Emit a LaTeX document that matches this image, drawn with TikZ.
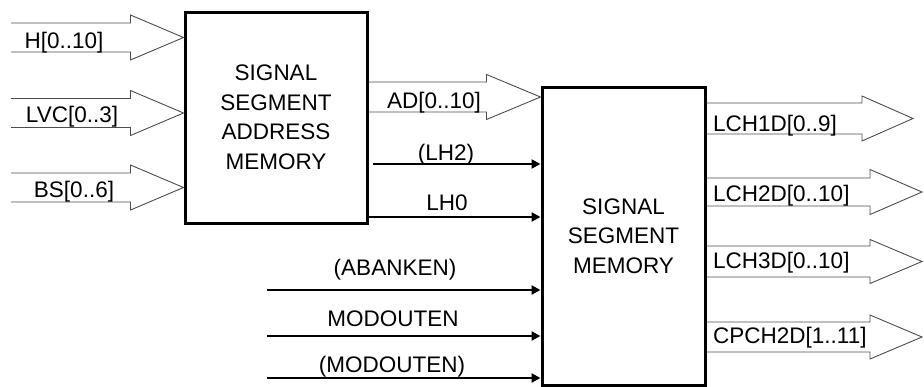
\documentclass[tikz,border=0pt]{standalone}
\usepackage{fontspec}
\setmainfont{Liberation Sans}
\usetikzlibrary{calc,arrows.meta}
\tikzset{
  blk/.style={draw=black, line width=3pt, inner sep=0pt, align=center,
    font=\fontsize{22.5}{29.5}\selectfont},
  bus/.style={draw=black!70, line width=0.9pt, line join=miter},
  sig/.style={draw=black, line width=2.8pt, -{Triangle[length=9pt,width=9pt]}},
  lbl/.style={inner sep=0pt, anchor=base, font=\fontsize{22.5}{26}\selectfont},
  lbll/.style={lbl, anchor=base west}
}
\newcommand\busar[5]{%
  \draw[bus] ($(#1)+(0,-#4)$) -- ($(#2)+(-#3,-#4)$) -- ($(#2)+(-#3,-#5)$) -- (#2)
    -- ($(#2)+(-#3,#5)$) -- ($(#2)+(-#3,#4)$) -- ($(#1)+(0,#4)$);}
\begin{document}
\begin{tikzpicture}[x=1pt,y=-1pt]
\useasboundingbox (0,0) rectangle (924,386);
% blocks
\node[blk, minimum width=182pt, minimum height=211pt] (ssam) at (276,117.5)
  {SIGNAL\\SEGMENT\\ADDRESS\\MEMORY};
\node[blk, minimum width=163pt, minimum height=298pt] (ssm) at (623.5,236)
  {SIGNAL\\SEGMENT\\MEMORY};
% input buses
\coordinate (hS) at (11,37.5);
\coordinate (lvcS) at (11,113);
\coordinate (bsS) at (11,187.5);
\coordinate (hT) at (ssam.west |- hS);
\coordinate (lvcT) at (ssam.west |- lvcS);
\coordinate (bsT) at (ssam.west |- bsS);
\busar{hS}{hT}{53}{14.5}{22.5}
\busar{lvcS}{lvcT}{53}{14.5}{22.5}
\busar{bsS}{bsT}{53}{14.5}{22.5}
\node[lbl] (hL) at (64,48) {H[0..10]};
\node[lbl] (lvcL) at (72,122) {LVC[0..3]};
\node[lbl] (bsL) at (74,197) {BS[0..6]};
% AD bus
\coordinate (adS) at (ssam.east |- 0,97);
\coordinate (adT) at (ssm.west |- 0,97);
\busar{adS}{adT}{54}{15}{22.5}
\node[lbl] (adL) at (434,108) {AD[0..10]};
% single signals
\coordinate (lh2S) at (373,164);
\draw[sig] (lh2S) -- (ssm.west |- lh2S);
\node[lbl] (lh2L) at (446,160) {(LH2)};
\coordinate (lh0S) at (ssam.east |- 0,217);
\draw[sig] (lh0S) -- (ssm.west |- lh0S);
\node[lbl] (lh0L) at (447,210) {LH0};
\coordinate (abS) at (267,290);
\draw[sig] (abS) -- (ssm.west |- abS);
\node[lbl] (abL) at (395,275) {(ABANKEN)};
\coordinate (moS) at (267,336);
\draw[sig] (moS) -- (ssm.west |- moS);
\node[lbl] (moL) at (393,326) {MODOUTEN};
\coordinate (monS) at (267,378);
\draw[sig] (monS) -- (ssm.west |- monS);
\node[lbl] (monL) at (392,372.5) {(MODOUTEN)};
% output buses
\coordinate (o1S) at (ssm.east |- 0,118.5);
\coordinate (o1T) at (913,118.5);
\busar{o1S}{o1T}{51}{15.5}{22.5}
\node[lbll] (o1L) at (713,131.5) {LCH1D[0..9]};
\coordinate (o2S) at (ssm.east |- 0,192);
\coordinate (o2T) at (922,192);
\busar{o2S}{o2T}{52}{14}{22.5}
\node[lbll] (o2L) at (713,201.5) {LCH2D[0..10]};
\coordinate (o3S) at (ssm.east |- 0,261.5);
\coordinate (o3T) at (922,261.5);
\busar{o3S}{o3T}{52}{15.5}{22}
\node[lbll] (o3L) at (713,268) {LCH3D[0..10]};
\coordinate (o4S) at (ssm.east |- 0,337);
\coordinate (o4T) at (922,337);
\busar{o4S}{o4T}{52}{15}{22}
\node[lbll] (o4L) at (713,343) {CPCH2D[1..11]};
\end{tikzpicture}
\end{document}
